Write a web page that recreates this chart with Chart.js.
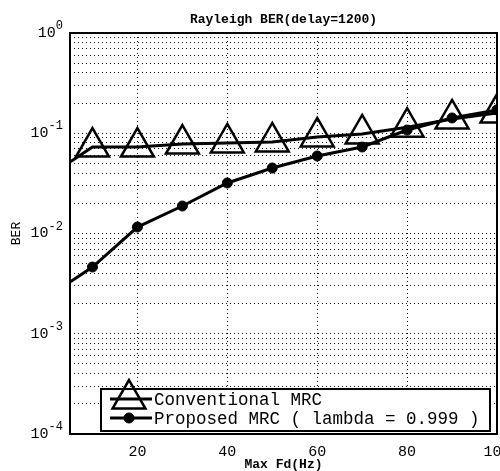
<!DOCTYPE html>
<html>
<head>
<meta charset="utf-8">
<script src="https://cdn.jsdelivr.net/npm/chart.js@4.4.1/dist/chart.umd.min.js"></script>
<style>
  html, body { margin: 0; padding: 0; background: #fff; }
  #wrap { width: 500px; height: 471px; position: relative; }
</style>
</head>
<body>
<div id="wrap"><canvas id="ber-chart"></canvas></div>
<script>
// Max Fd (Hz); first point sits on the left edge of the plot (no marker)
const maxFd = [5, 10, 20, 30, 40, 50, 60, 70, 80, 90, 100];
const conventionalBer = [0.0517, 0.0729, 0.0729, 0.0781, 0.080, 0.0818, 0.0918, 0.0983, 0.115, 0.139, 0.159];
const proposedBer = [0.00328, 0.00463, 0.0116, 0.0188, 0.0319, 0.045, 0.0593, 0.0729, 0.1077, 0.142, 0.171];
const xTicks = [20, 40, 60, 80, 100];
const yDecades = [-4, -3, -2, -1, 0];
const seriesLabels = ["Conventional MRC", "Proposed MRC ( lambda = 0.999 )"];

const MONO = '"Liberation Mono", "DejaVu Sans Mono", monospace';

// ticks 1..9 x 10^d for the minor grid
function logTicks() {
  const out = [];
  for (let i = 0; i < yDecades.length - 1; i++) {
    for (let m = 1; m <= 9; m++) {
      out.push({ value: Number((m * Math.pow(10, yDecades[i])).toPrecision(3)) });
    }
  }
  out.push({ value: Math.pow(10, yDecades[yDecades.length - 1]) });
  return out;
}

function toPoints(values) {
  return maxFd.map((x, i) => ({ x: x, y: values[i] }));
}

// marker only on the real samples, not on the edge point
const markerRadius = (r) => maxFd.map((x, i) => (i === 0 ? 0 : r));

// y labels as 10 with a raised exponent
const decadeLabels = {
  id: "decadeLabels",
  afterDraw(chart) {
    const { ctx } = chart;
    const yScale = chart.scales.y;
    const xRight = yScale.right - 7;
    ctx.save();
    ctx.fillStyle = "#000";
    ctx.textBaseline = "middle";
    ctx.textAlign = "right";
    yDecades.forEach((d) => {
      const y = yScale.getPixelForValue(Math.pow(10, d));
      ctx.font = "12px " + MONO;
      const exp = String(d);
      const expW = ctx.measureText(exp).width;
      ctx.fillText(exp, xRight, y - 7);
      ctx.font = "15px " + MONO;
      ctx.fillText("10", xRight - expW, y);
    });
    ctx.restore();
  },
};

// frame round the plot + legend inside the axes
const framePlugin = {
  id: "frameAndLegend",
  afterDraw(chart) {
    const { ctx, chartArea } = chart;
    const { left, top, right, bottom } = chartArea;
    ctx.save();
    ctx.strokeStyle = "#000";
    ctx.lineWidth = 2;
    ctx.strokeRect(left, top, right - left, bottom - top);

    // legend box
    const bx = left + 31, by = bottom - 45, bw = 389, bh = 42;
    ctx.fillStyle = "#fff";
    ctx.fillRect(bx, by, bw, bh);
    ctx.strokeRect(bx, by, bw, bh);

    const rows = [by + 10, by + 29];
    chart.data.datasets.forEach((ds, i) => {
      const y = rows[i];
      ctx.lineWidth = 3;
      ctx.strokeStyle = "#000";
      ctx.beginPath();
      ctx.moveTo(bx + 9, y);
      ctx.lineTo(bx + 51, y);
      ctx.stroke();
      ctx.fillStyle = ds.pointBackgroundColor;
      ctx.lineWidth = ds.pointBorderWidth;
      Chart.helpers.drawPoint(ctx, {
        pointStyle: ds.pointStyle,
        radius: Math.max.apply(null, ds.pointRadius),
        borderWidth: ds.pointBorderWidth,
        rotation: 0,
      }, bx + 28, y);
      ctx.fillStyle = "#000";
      ctx.font = "17.5px " + MONO;
      ctx.textAlign = "left";
      ctx.textBaseline = "middle";
      ctx.fillText(ds.label, bx + 53, y + 1);
    });
    ctx.restore();
  },
};

const chart = new Chart(document.getElementById("ber-chart"), {
  type: "line",
  data: {
    datasets: [
      {
        label: seriesLabels[0],
        data: toPoints(conventionalBer),
        borderColor: "#000",
        borderWidth: 3,
        pointStyle: "triangle",
        pointRadius: markerRadius(19),
        pointBorderWidth: 2.5,
        pointBorderColor: "#000",
        pointBackgroundColor: "rgba(0,0,0,0)",
        tension: 0,
      },
      {
        label: seriesLabels[1],
        data: toPoints(proposedBer),
        borderColor: "#000",
        borderWidth: 3,
        pointStyle: "circle",
        pointRadius: markerRadius(5),
        pointBorderWidth: 1,
        pointBorderColor: "#000",
        pointBackgroundColor: "#000",
        tension: 0,
      },
    ],
  },
  options: {
    responsive: true,
    maintainAspectRatio: false,
    animation: false,
    layout: {
      autoPadding: false,
      padding: { left: 0, right: 3, top: 0, bottom: 0 },
    },
    plugins: {
      legend: { display: false },
      tooltip: { enabled: false },
      title: {
        display: true,
        fullSize: false,
        text: "Rayleigh BER(delay=1200)",
        color: "#000",
        font: { family: MONO, size: 13, weight: "bold", lineHeight: 1.2 },
        padding: { top: 12, bottom: 5.4 },
      },
    },
    scales: {
      x: {
        type: "linear",
        min: 5,
        max: 100,
        afterBuildTicks: (scale) => {
          scale.ticks = xTicks.map((v) => ({ value: v }));
        },
        afterFit: (scale) => {
          scale.height = 37;
          scale.paddingLeft = 0;
          scale.paddingRight = 0;
        },
        grid: { color: "#111", lineWidth: 1, drawTicks: false },
        border: { display: false, dash: [1, 3] },
        ticks: {
          color: "#000",
          padding: 9,
          maxRotation: 0,
          font: { family: MONO, size: 15 },
        },
        title: {
          display: true,
          text: "Max Fd(Hz)",
          color: "#000",
          font: { family: MONO, size: 13, weight: "bold", lineHeight: 1 },
          padding: { top: 0, bottom: 0 },
        },
      },
      y: {
        type: "logarithmic",
        min: 1e-4,
        max: 1,
        afterBuildTicks: (scale) => {
          scale.ticks = logTicks();
        },
        afterFit: (scale) => {
          scale.width = 70;
          scale.paddingTop = 0;
          scale.paddingBottom = 0;
        },
        grid: { color: "#111", lineWidth: 1, drawTicks: false },
        border: { display: false, dash: [1, 3] },
        ticks: {
          padding: 8,
          autoSkip: false,
          font: { family: MONO, size: 15 },
          callback: () => "",
        },
        title: {
          display: true,
          text: "BER",
          color: "#000",
          font: { family: MONO, size: 13, lineHeight: 1 },
          padding: { top: 10.5, bottom: 0 },
        },
      },
    },
  },
  plugins: [decadeLabels, framePlugin],
});
</script>
</body>
</html>
